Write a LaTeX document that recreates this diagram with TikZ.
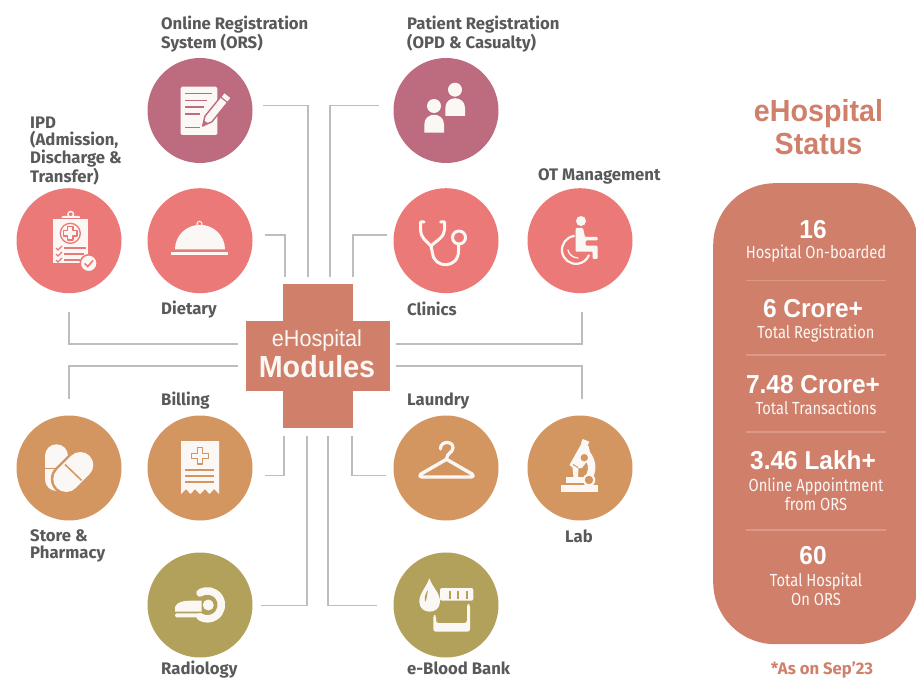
\documentclass[tikz,border=0pt]{standalone}
\usepackage{fontspec}
\setmainfont{Fira Sans}
\newfontfamily\headfont[FakeStretch=0.94]{Liberation Sans}
\newfontfamily\narrowfont[FakeStretch=0.84]{Fira Sans}
\usetikzlibrary{calc}
\definecolor{cplum}{HTML}{BD6B7F}
\definecolor{csalmon}{HTML}{EB7977}
\definecolor{corange}{HTML}{D49661}
\definecolor{colive}{HTML}{B2A15A}
\definecolor{cbrick}{HTML}{CF7F6A}
\definecolor{ctext}{HTML}{58595B}
\definecolor{cicon}{HTML}{FBF7F5}
\definecolor{cline}{HTML}{BDBDBD}
\definecolor{cdiv}{HTML}{DA9A88}
\tikzset{
  circ/.style={circle,minimum size=105pt,inner sep=0pt,draw=none},
  conn/.style={draw=cline,line width=1.4pt},
  lab/.style={anchor=west,align=left,inner sep=0pt,text=ctext,font=\fontsize{16.7}{19}\selectfont\bfseries},
  labtight/.style={lab,font=\fontsize{16.7}{17.6}\selectfont\bfseries},
  bignum/.style={inner sep=0pt,text=white,font=\headfont\fontsize{26}{28}\selectfont\bfseries},
  subt/.style={inner sep=0pt,align=center,text=cicon,font=\narrowfont\fontsize{17.5}{19}\selectfont},
  divl/.style={draw=cdiv,line width=1.2pt},
  ic/.style={fill=cicon,draw=none},
  icl/.style={draw=cicon,line cap=round,line join=round},
}
\begin{document}
\begin{tikzpicture}[x=1pt,y=-1pt]
\useasboundingbox (0,0) rectangle (916,679);
% cross
\node[fill=cbrick,minimum width=70pt,minimum height=144pt,inner sep=0pt] (crossv) at (318,356) {};
\node[fill=cbrick,minimum width=144.5pt,minimum height=70pt,inner sep=0pt] (crossh) at (318,356) {};
\node[inner sep=0pt,text=cicon,font=\headfont\fontsize{23}{24}\selectfont] (t1) at (317,341) {eHospital};
\node[inner sep=0pt,text=cicon,font=\headfont\fontsize{30.5}{34}\selectfont\bfseries] (t2) at (317,367) {Modules};
% circles
\node[circ,fill=cplum] (ors) at (200,110.5) {};
\node[circ,fill=cplum] (pat) at (446,110.5) {};
\node[circ,fill=csalmon] (ipd) at (69,240.7) {};
\node[circ,fill=csalmon] (diet) at (200,240.7) {};
\node[circ,fill=csalmon] (clin) at (446,240.7) {};
\node[circ,fill=csalmon] (ot) at (580,240.7) {};
\node[circ,fill=corange] (store) at (69,468) {};
\node[circ,fill=corange] (bill) at (200,468) {};
\node[circ,fill=corange] (laun) at (446,468) {};
\node[circ,fill=corange] (lab) at (580,468) {};
\node[circ,fill=colive] (radio) at (200,605) {};
\node[circ,fill=colive] (blood) at (446,605) {};
% connectors
\draw[conn] ([shift={(10.5,-5.2)}]ors.east) -| ([shift={(-10,-7)}]crossv.north);
\draw[conn] ([shift={(-14.5,-5.2)}]pat.west) -| ([shift={(12,-7)}]crossv.north);
\draw[conn] ([shift={(12.5,-5.7)}]diet.east) -| ([shift={(-33,-7)}]crossv.north);
\draw[conn] ([shift={(-6.5,-5.7)}]clin.west) -| ([shift={(35,-7)}]crossv.north);
\draw[conn] ([shift={(0,18.3)}]ipd.south) |- ([shift={(-8,-12)}]crossh.west);
\draw[conn] ([shift={(2,18.3)}]ot.south) |- ([shift={(6,-12)}]crossh.east);
\draw[conn] ([shift={(0,-16)}]store.north) |- ([shift={(-8,10)}]crossh.west);
\draw[conn] ([shift={(2,-16)}]lab.north) |- ([shift={(6,10)}]crossh.east);
\draw[conn] ([shift={(12.5,7.3)}]bill.east) -| ([shift={(-34,8)}]crossv.south);
\draw[conn] ([shift={(-7.5,7.3)}]laun.west) -| ([shift={(34,8)}]crossv.south);
\draw[conn] ([shift={(8.5,0.3)}]radio.east) -| ([shift={(-11,8)}]crossv.south);
\draw[conn] ([shift={(-16.5,0.3)}]blood.west) -| ([shift={(10,8)}]crossv.south);
% labels
\node[lab] (l1) at (161,34.5) {Online Registration\\System (ORS)};
\node[lab] (l2) at (407,34.5) {Patient Registration\\(OPD \& Casualty)};
\node[labtight] (l3) at (30,151) {IPD\\(Admission,\\Discharge \&\\Transfer)};
\node[lab] (l4) at (161,310) {Dietary};
\node[lab] (l5) at (407,309) {Clinics};
\node[lab] (l6) at (538,176) {OT Management};
\node[lab] (l7) at (161,401) {Billing};
\node[lab] (l8) at (407,401) {Laundry};
\node[labtight] (l9) at (30,546) {Store \&\\Pharmacy};
\node[lab] (l10) at (565,536) {Lab};
\node[lab] (l11) at (161,669.5) {Radiology};
\node[lab] (l12) at (407,668) {e-Blood Bank};
% ORS icon
\fill[ic,rounded corners=1.5pt] (180.7,86.7) rectangle (217.3,135);
\foreach \y/\e in {93.5/212,100.5/207,107/204,114/200,127.7/200}
  \draw[cplum,line width=1.3pt] (185,\y) -- (\e,\y);
\filldraw[fill=cicon,draw=cplum,line width=1.4pt,line join=round] (202.7,126) -- (204.9,116.2) -- (224.4,92.2) -- (231.4,97.8) -- (211.9,121.8) -- cycle;
\draw[cplum,line width=1.2pt] (220.6,97) -- (227.6,102.6);
\fill[cplum] (202.7,126) -- (203.5,120.5) -- (208,123) -- cycle;
% Patient icon
\fill[ic] (455,89.7) circle (7);
\fill[ic] (445.3,116) -- (445.3,108) .. controls (445.3,95) and (465,95) .. (465,108) -- (465,116) -- cycle;
\fill[ic] (434,106) circle (7);
\fill[ic] (424.3,132.7) -- (424.3,124.5) .. controls (424.3,111.5) and (444,111.5) .. (444,124.5) -- (444,132.7) -- cycle;
% IPD icon
\fill[ic] (53.3,218.3) rectangle (87.7,262.7);
\fill[ic,rounded corners=1pt] (61.7,216) rectangle (80,220);
\draw[cicon,line width=1.4pt] (70.7,214.3) circle (2.8);
\draw[csalmon,line width=1pt] (53.3,218.6) -- (87.7,218.6);
\draw[csalmon,line width=1.3pt] (70.3,233.3) circle (10);
\draw[csalmon,line width=1.3pt,line join=round] (67.5,226.5) -- (73,226.5) -- (73,230.5) -- (77,230.5) -- (77,236) -- (73,236) -- (73,240) -- (67.5,240) -- (67.5,236) -- (63.5,236) -- (63.5,230.5) -- (67.5,230.5) -- cycle;
\foreach \y/\e in {248/86,254/84,260/80}{
  \draw[csalmon,line width=1.3pt] (64,\y) -- (\e,\y);
  \draw[csalmon,line width=1.2pt] (56,\y) -- (58,\y+2) -- (62,\y-2);
}
\filldraw[fill=cicon,draw=csalmon,line width=1.5pt] (88.7,263.3) circle (8.5);
\draw[csalmon,line width=1.6pt] (84.7,263.5) -- (87.7,266.5) -- (93,260.5);
% Dietary icon
\fill[ic] (175,249.3) arc[start angle=180,end angle=360,x radius=25,y radius=24.5] -- cycle;
\draw[cicon,line width=1pt] (199.5,224) circle (2.6);
\fill[ic] (171,252) rectangle (228,255);
% Clinics icon
\draw[icl,line width=3pt] (424,222) -- (420.5,222) -- (420.5,230) .. controls (420.5,237) and (426,241) .. (431,246) .. controls (436,241) and (444.5,237) .. (444.5,230) -- (444.5,222) -- (440.5,222);
\draw[icl,line width=3pt] (431,246) -- (432.5,253) .. controls (434,269) and (458.5,269) .. (458.5,251) -- (458.5,244);
\draw[icl,line width=3pt] (459,237.5) circle (6.5);
% OT icon
\fill[ic] (581,221) circle (5);
\fill[ic,rounded corners=1pt] (575.5,228) -- (583,228) -- (585,237) -- (597.5,237) -- (597.5,240.5) -- (585.5,240.5) -- (585.5,245.7) -- (597.5,245.7) -- (597.5,259) -- (592.7,259) -- (592.7,251.7) -- (575.5,251.7) -- cycle;
\draw[icl,line width=2.2pt] (574,236) arc[start angle=-98,end angle=-337,radius=14];
\draw[icl,line width=1.3pt] (568,250) .. controls (568.5,254) and (573,258) .. (578,258);
% Store icon
\fill[ic,rounded corners=11.5pt] (45,444.3) rectangle (68,491);
\draw[corange,line width=1.4pt] (45,468.7) -- (64,468.7);
\draw[corange,line width=31pt,line cap=round] (66.3,479) -- (80.3,465);
\draw[cicon,line width=26pt,line cap=round] (66.3,479) -- (80.3,465);
\draw[corange,line width=1.5pt] (65,464.5) -- (81.7,480.5);
% Billing icon
\fill[ic] (181,441) -- (219,441) -- (219,494) -- (214,489) -- (209.5,494) -- (205,489) -- (200,494) -- (195,489) -- (190.5,494) -- (186,489) -- (181,494) -- cycle;
\draw[corange,line width=1.3pt,line join=round] (197.5,447.5) -- (202.5,447.5) -- (202.5,453.3) -- (208.3,453.3) -- (208.3,458.3) -- (202.5,458.3) -- (202.5,464) -- (197.5,464) -- (197.5,458.3) -- (191.7,458.3) -- (191.7,453.3) -- (197.5,453.3) -- cycle;
\foreach \y in {470,475.7,481.7} \draw[corange,line width=1.8pt] (185.3,\y) -- (214.3,\y);
% Laundry icon
\draw[icl,line width=3.2pt] (440.5,449) .. controls (440,440.5) and (453.5,440.5) .. (453,448) .. controls (452.5,453) and (446.5,453) .. (446.5,459.3);
\draw[icl,line width=3.4pt] (446.5,459.3) -- (421,474) .. controls (419,475.5) and (420,477) .. (422,477) -- (471,477) .. controls (473,477) and (474,475.5) .. (472,474) -- cycle;
% Lab icon
\fill[ic] (561,485) rectangle (598,492.3);
\fill[ic] (565.7,476.7) rectangle (592,482.7);
\fill[ic] (582.7,439) -- (589.3,441.7) -- (587.5,446) -- (581,443.3) -- cycle;
\fill[ic] (581.5,443.5) -- (588.5,446) -- (590,452) .. controls (596,460) and (597,470) .. (593,477) -- (585,477) .. controls (588,473) and (589,466) .. (586.5,462) -- (582,468) -- (578.5,468) -- (578,477) -- (573.5,477) -- (572.5,467.5) -- (569.5,465) -- cycle;
\fill[corange] (584.3,457.7) circle (3.7);
\fill[ic] (589,480) circle (6.3);
\fill[corange] (589,480) circle (4.2);
\draw[corange,line width=1pt] (573,464.5) -- (578,467.5);
% Radiology icon
\draw[icl,line width=7.5pt,line cap=round] (200,593) arc[start angle=-122,end angle=122,radius=14];
\fill[ic] (208.3,605) circle (5.5);
\fill[ic] (175,611.7) -- (175,607) .. controls (177,602) and (183,600.7) .. (190,600.7) -- (201.7,600.7) -- (201.7,611.7) -- cycle;
\fill[ic,rounded corners=1.5pt] (175,613.3) rectangle (203,617.3);
% Blood icon
\fill[ic] (429.3,578.3) .. controls (426,588) and (419.3,593) .. (419.3,601.7) .. controls (419.3,615) and (440,615) .. (440,601.7) .. controls (440,593) and (433,588) .. (429.3,578.3) -- cycle;
\fill[colive] (425,602) .. controls (424,597) and (426,592) .. (428,590) .. controls (427,595) and (427,599) .. (425,602) -- cycle;
\fill[ic,rounded corners=2pt] (440,588) rectangle (473.3,600.7);
\foreach \x in {450,458.3,466.7} \draw[colive,line width=2pt] (\x,590.5) -- (\x,598.5);
\fill[ic,rounded corners=2.5pt] (433.3,615) -- (436,615) -- (436,623) -- (467,623) -- (467,604) -- (470,604) -- (470,631.7) -- (433.3,631.7) -- cycle;
% status panel
\node[inner sep=0pt,text=cbrick,font=\headfont\fontsize{30.5}{30}\selectfont\bfseries] (s0a) at (818.5,113.5) {eHospital};
\node[inner sep=0pt,text=cbrick,font=\headfont\fontsize{30.5}{30}\selectfont\bfseries] (s0b) at (818.5,144) {Status};
\node[fill=cbrick,rounded corners=62pt,minimum width=205pt,minimum height=461pt,inner sep=0pt,anchor=north west] (panel) at (713,183) {};
\node[bignum] (n1) at (813,229.5) {16};
\node[subt] (d1) at (816,254) {Hospital On-boarded};
\node[bignum] (n2) at (813,309) {6 Crore+};
\node[subt] (d2) at (816,334) {Total Registration};
\node[bignum] (n3) at (813,385) {7.48 Crore+};
\node[subt] (d3) at (816,408) {Total Transactions};
\node[bignum] (n4) at (813,460.5) {3.46 Lakh+};
\node[subt] (d4) at (816,494.5) {Online Appointment\\from ORS};
\node[bignum] (n5) at (813,555.5) {60};
\node[subt] (d5) at (816,589.5) {Total Hospital\\On ORS};
\foreach \y in {280.7,355,432,530} \draw[divl] (746,\y) -- (886,\y);
\node[inner sep=0pt,text=cbrick,font=\fontsize{16.7}{18}\selectfont\bfseries] (note) at (822,669.5) {*As on Sep'23};
\end{tikzpicture}
\end{document}
